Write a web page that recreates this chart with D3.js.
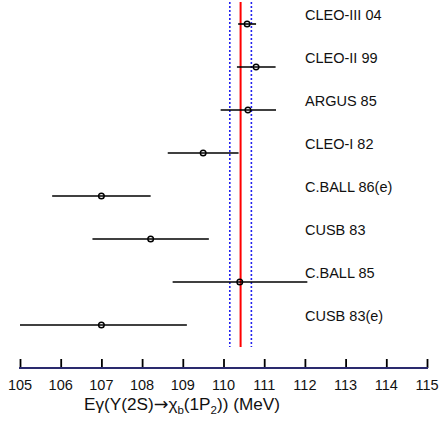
<!DOCTYPE html>
<html><head><meta charset="utf-8">
<script src="https://cdn.jsdelivr.net/npm/d3@7"></script>
<style>body{margin:0;background:#fff}svg{display:block}text{font-family:"Liberation Sans",Arial,Helvetica,sans-serif}</style>
</head><body>
<svg id="c" width="441" height="421"></svg>
<script>
const experiments = ["CLEO-III 04","CLEO-II 99","ARGUS 85","CLEO-I 82","C.BALL 86(e)","CUSB 83","C.BALL 85","CUSB 83(e)"];
const centralValues = [110.58, 110.80, 110.60, 109.50, 107.00, 108.21, 110.40, 107.00];
const errLow = [0.22, 0.47, 0.67, 0.87, 1.21, 1.43, 1.65, 2.00];
const errHigh = [0.22, 0.48, 0.69, 0.87, 1.21, 1.43, 1.66, 2.10];
const average = 110.42;
const averageErr = 0.265;
const tickValues = [105,106,107,108,109,110,111,112,113,114,115];

const svg = d3.select("#c");
const x = d3.scaleLinear().domain([105,115]).range([20,427]);
const y = d3.scalePoint().domain(experiments).range([24, 325]);

// average bands
svg.append("line").attr("x1", x(average)).attr("x2", x(average)).attr("y1", 2).attr("y2", 347)
  .attr("stroke", "#ff0000").attr("stroke-width", 2);
[average - averageErr, average + averageErr].forEach(v => {
  svg.append("line").attr("x1", x(v)).attr("x2", x(v)).attr("y1", 2).attr("y2", 347)
    .attr("stroke", "#2222ee").attr("stroke-width", 1.6).attr("stroke-dasharray", "2,2");
});

const rows = experiments.map((e,i) => ({name:e, v:centralValues[i], lo:Math.max(105, centralValues[i]-errLow[i]), hi:Math.min(115, centralValues[i]+errHigh[i])}));

const g = svg.append("g");
g.selectAll("line.err").data(rows).join("line").attr("class","err")
  .attr("x1", d => x(d.lo)).attr("x2", d => x(d.hi))
  .attr("y1", d => y(d.name)).attr("y2", d => y(d.name))
  .attr("stroke", "#000").attr("stroke-width", 1.6);
g.selectAll("circle").data(rows).join("circle")
  .attr("cx", d => x(d.v)).attr("cy", d => y(d.name)).attr("r", 2.8)
  .attr("fill", "none").attr("stroke", "#000").attr("stroke-width", 1.4);
g.selectAll("text.lab").data(rows).join("text").attr("class","lab")
  .attr("x", 305).attr("y", d => y(d.name) - 4)
  .attr("font-size", 14.5).attr("fill", "#111").text(d => d.name);

// axis
const ax = svg.append("g").attr("transform", "translate(0,368)");
const axis = d3.axisTop(x).tickValues(tickValues).tickSize(9).tickFormat("");
ax.call(axis);
ax.select(".domain").remove();
ax.selectAll(".tick line").attr("stroke", "#000").attr("stroke-width", 1.8);
ax.append("line").attr("x1", x(105)-1).attr("x2", x(115)+1).attr("y1", 0).attr("y2", 0)
  .attr("stroke", "#2a2a6e").attr("stroke-width", 2);
svg.append("g").selectAll("text").data(tickValues).join("text")
  .attr("x", d => x(d)).attr("y", 390).attr("text-anchor", "middle")
  .attr("font-size", 14.5).attr("fill", "#111").text(d => d);

const t = svg.append("text").attr("x", 182).attr("y", 410).attr("text-anchor", "middle")
  .attr("font-size", 17.2).attr("fill", "#111");
t.append("tspan").text("Eγ(Y(2S)");
t.append("tspan").attr("font-family", "DejaVu Sans").attr("font-size", 17.5).text("→");
t.append("tspan").text("χ");
t.append("tspan").attr("font-size", 11.5).attr("dy", 4).text("b");
t.append("tspan").attr("dy", -4).text("(1P");
t.append("tspan").attr("font-size", 11.5).attr("dy", 4).text("2");
t.append("tspan").attr("dy", -4).text(")) (MeV)");
</script>
</body></html>
